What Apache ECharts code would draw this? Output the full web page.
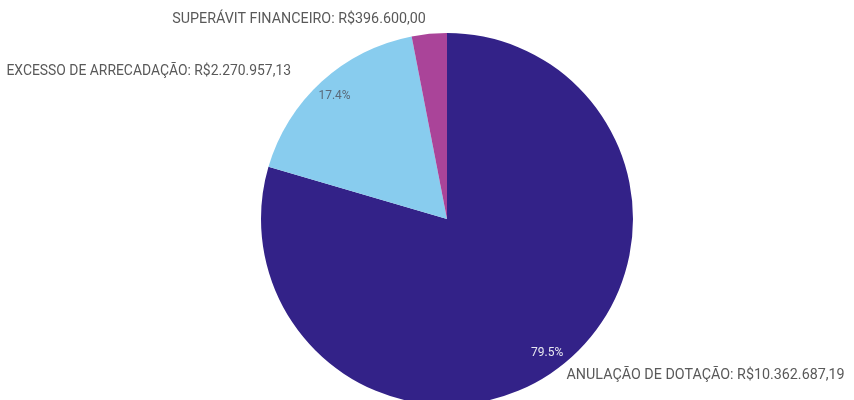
<!DOCTYPE html>
<html><head><meta charset="utf-8">
<script src="https://cdn.jsdelivr.net/npm/echarts@6/dist/echarts.min.js"></script>
<style>html,body{margin:0;padding:0;background:#fff}#c{width:854px;height:400px}</style>
</head><body><div id="c"></div>
<script>
const categories = ['ANULAÇÃO DE DOTAÇÃO', 'EXCESSO DE ARRECADAÇÃO', 'SUPERÁVIT FINANCEIRO'];
const valueLabels = ['R$10.362.687,19', 'R$2.270.957,13', 'R$396.600,00'];
const values = [10362687.19, 2270957.13, 396600.00];
const colors = ['#332288', '#88CCEE', '#AA4499'];
const showPct = [true, true, false];
const pctColors = ['#e8e8f0', '#5a6a7a', '#ffffff'];
const lineLen = [10, 13, 14];
const lineLen2 = [0, 20, 0];
const labelSizes = [14.3, 13.9, 14.3];

const FONT = 'Roboto, sans-serif';
const total = values.reduce((a, b) => a + b, 0);
const chart = echarts.init(document.getElementById('c'), null, {renderer: 'canvas'});
chart.setOption({
  animation: false,
  series: [
    {
      type: 'pie', center: [447, 219], radius: [0, 186], startAngle: 90,
      avoidLabelOverlap: false,
      data: categories.map((c, i) => ({
        name: c, value: values[i],
        itemStyle: {color: colors[i]},
        label: {formatter: c + ': ' + valueLabels[i], fontSize: labelSizes[i]},
        labelLine: {show: false, length: lineLen[i], length2: lineLen2[i]}
      })),
      label: {show: true, position: 'outside', color: '#595959', fontFamily: FONT, distanceToLabelLine: 2},
      itemStyle: {borderWidth: 0},
      emphasis: {disabled: true}
    },
    {
      type: 'pie', center: [447, 219], radius: [142, 186], startAngle: 90,
      silent: true,
      data: categories.map((c, i) => ({
        name: c, value: values[i],
        itemStyle: {color: 'rgba(0,0,0,0)'},
        label: {show: showPct[i], color: pctColors[i],
          formatter: (values[i] / total * 100).toFixed(1) + '%'}
      })),
      label: {position: 'inside', fontSize: 12, fontFamily: FONT},
      labelLine: {show: false}
    }
  ]
});
</script></body></html>
